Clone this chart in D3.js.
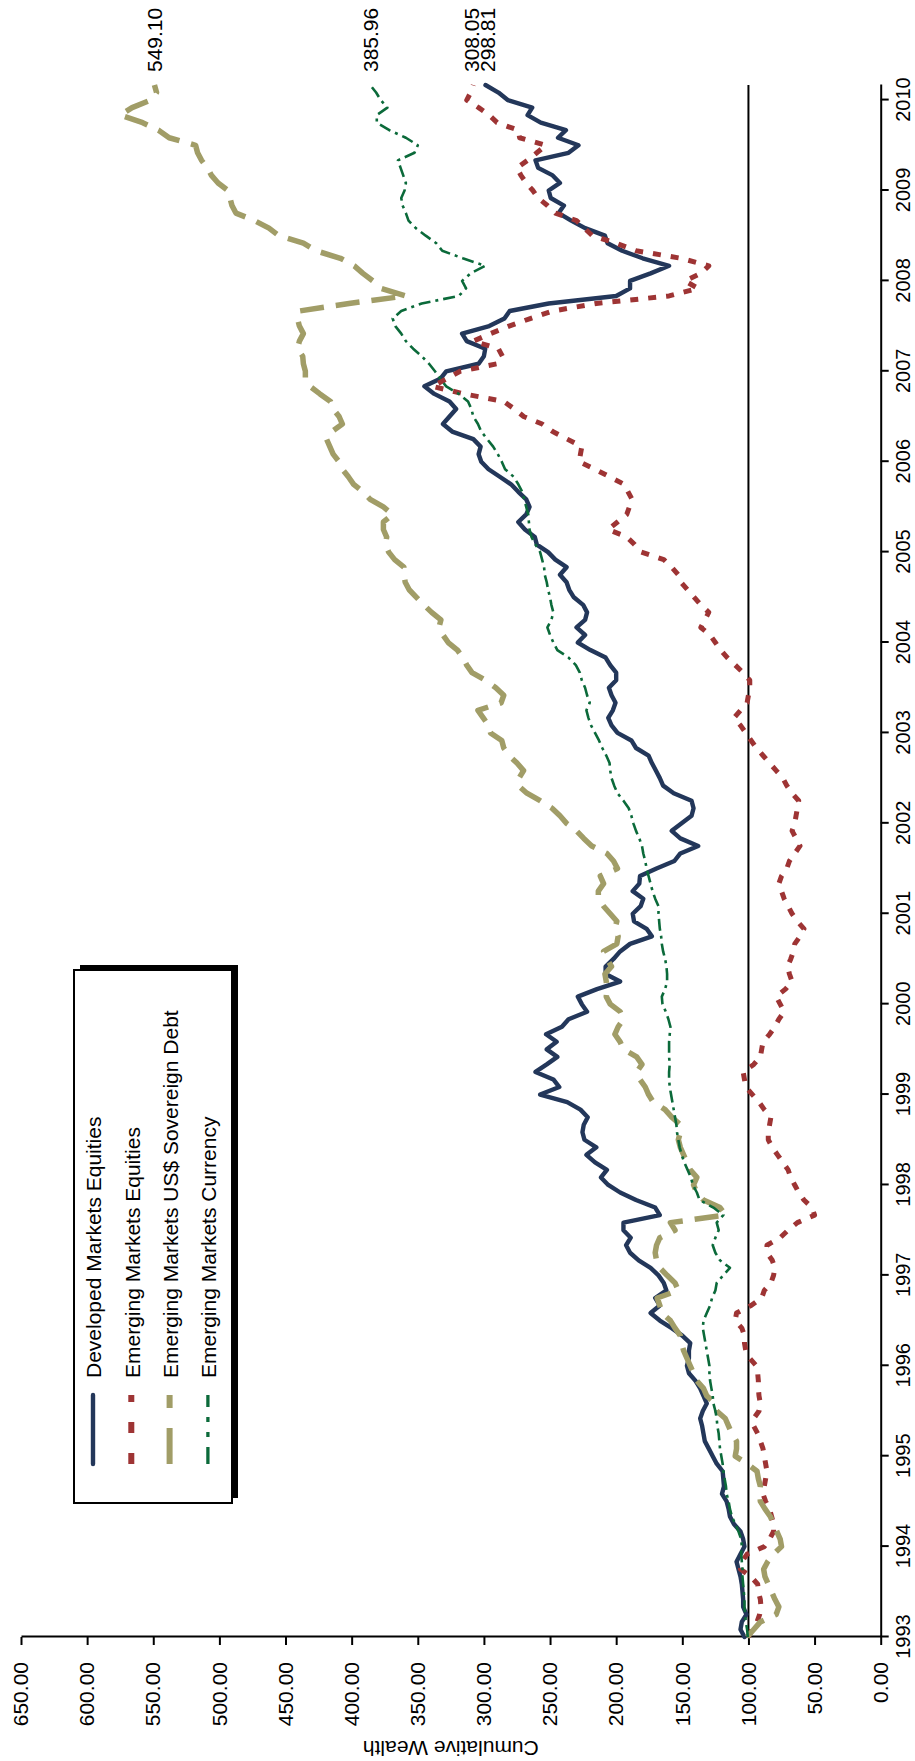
<!DOCTYPE html>
<html>
<head>
<meta charset="utf-8">
<script src="https://cdn.jsdelivr.net/npm/d3@7"></script>
<style>
  html, body { margin: 0; padding: 0; background: #fff; }
  svg { display: block; }
  text { font-family: "Liberation Sans", Arial, sans-serif; fill: #000; }
</style>
</head>
<body>
<div id="chart"></div>
<script>
// ---------------- DATA (monthly, Jan 1993 .. Mar 2010) ----------------
const yearLabels = ["1993","1994","1995","1996","1997","1998","1999","2000","2001",
  "2002","2003","2004","2005","2006","2007","2008","2009","2010"];
const valueTicks = [0,50,100,150,200,250,300,350,400,450,500,550,600,650];
const seriesNames = ["Developed Markets Equities","Emerging Markets Equities",
  "Emerging Markets US$ Sovereign Debt","Emerging Markets Currency"];

const developedEquities = [
  103,106,105,101.5,104,104,104.5,105,106,107.5,109,106,
  103,104,106,111,114,115,116.5,120,118.5,119,119.5,124,
  127,130,133,134,135,136.5,134.5,131.5,134,136.5,140,145,
  146.5,145,145,144,150,158,167,174,167,170.5,162,164,
  168,174,183,189.5,192.5,189,194.5,194.5,167,170.5,185,197,
  206,211.5,207,216,222.5,215,224,225.5,224.5,221.5,227,237,
  257.5,243,247.5,261,252.5,244.5,252.5,245,253,241,236,222,
  226,229,214.5,197,208,208,202,197,189.5,173,177,186.5,
  187.5,181.5,179.5,187.5,182.5,182,169.5,156,151.5,138,151.5,158,
  150.5,143,141.5,143,156.5,164.5,167,170,173,175.5,185,188.5,
  199,203.5,206,202.5,200.5,203.5,205.5,200,200,204.5,208,219.5,
  229,223.5,230,223.5,222,225,232,235.5,237.5,242.5,237.5,246,
  251.5,260,261.5,269,274,268,265.5,268,274,279.5,288,296.5,
  302,304,302.5,308,324,331,326,321,326,337.5,345,333,
  328.5,304,300,299,313,316.5,296,284.5,280.5,251,200,189.5,
  189.5,174,160,180,195.5,206.5,208.5,223.5,234,243.5,239.5,249.5,
  251,242.5,248,259,261,236,228.5,244,238,257,267,263.5,
  282,289,298.81];

const emergingEquities = [
  100,97.5,93.5,91.5,90.5,91,92.5,93,98,106,105,101,
  88,84,81,81,82.5,84,87,89,88,87,86,87,
  88,89,91,93,96,96,92,91,92,92.5,92.5,93,
  94,99,102,103,103,105,110,109,98,90,88,83,
  81,80,82,86,86,76,70,63,50,52,58,62,
  65,68,70,74,78,82,85,85,84,83,88,92,
  97,102,103,104,96,91,90,89,84,80,77,73,
  76,79,72,67,69,70.5,68,66,65,61,58,63,
  67,70,73,75,77,75,71,69,65,61,64,67,
  65,64,63,62,67,71,74,79,84,89,94,98,
  102,106,111,106,101,100,99,99,104,110,116,121,
  125,129,136,133,130,136,141,146,151,153,158,164,
  181,186,192,206,199,192,190,188,191,194,205,216,
  228,227,226,237,248,256,270,277,285,315,339,328,
  318,290,286,289,308,295,281,265,248,215,160,138,
  148,136,130,151,185,200,218,224,230,246,252,259,
  263,268,272,275,267,260,253,273,274,290,296,304,
  313,310,308.05];

const emergingDebt = [
  101,96,91,79,77,80,82.5,85,87.5,88.5,85.5,81,
  75,76,78.5,81,83.5,87.5,91,91.5,91,92.5,93.5,101,
  110,109,109,112.5,115,117.5,124,125,131.5,134,139,141.5,
  144,146.5,149,150.5,151.5,155.5,159,165.5,167,169,153,155.5,
  161.5,167,169.5,170.5,169.5,167,155.5,159,117.5,121.5,134,139,
  141.5,139,144,146.5,149,151.5,153,151.5,151.5,158,163,172,
  175.5,178,182,184.5,180.5,184.5,194.5,197,201,198.5,194.5,197,
  204.5,207.5,207,207.5,208.5,203.5,207,209.5,199.5,198.5,201,199.5,
  204.5,209.5,213.5,213.5,209.5,212,199,202,207,218.5,224.5,230,
  237.5,242.5,248.5,257.5,267.5,274,273.5,270,275,281,285,286.5,
  295,296.5,300.5,304.5,287,285,291,299,309,313,316,320,
  327,331,334,332.5,339.5,345.5,351,356.5,359.5,360.5,360.5,367.5,
  372,374.5,373.5,376,376,369,376,386,391.5,398.5,402.5,407,
  409.5,414,416.5,419,415,407,409.5,414,416,424,431.5,435,
  435,436.5,437,441,439.5,436.5,439.5,441,439.5,402,359,377.5,
  384,391.5,398,408.5,427,436.5,455,462.5,473.5,487.5,490.5,492,
  493.5,501,506,509,513.5,516.5,518,538,546,558,575,566,
  552,547.5,549.10];

const emergingCurrency = [
  100.5,101,102,102.5,103,103,103.5,104,104.5,104.5,105,105.5,
  105,105.5,107.5,110,112.5,114,115,116.5,117,118,119,119.5,
  120.5,121.5,122,122.5,123.5,124,125,126.5,127,128,129,129.5,
  129.5,130.5,131.5,132.5,133.5,134.5,134,131.5,129,127.5,125,124,
  119,114,121.5,125,127,125,122.5,124,119,126.5,137,139,
  142,143.5,146,148.5,150.5,152,153,154,154.5,155.5,156.5,157.5,
  158.5,159.5,160,160,159.5,160,160,160,159.5,159,160.5,162.5,
  165,165.5,163,161.5,161.5,162,163,164.5,165.5,166,167,167.5,
  168,168,170.5,172.5,174,175.5,177,178,179.5,180.5,182.5,185,
  187,188.5,190.5,194.5,199,201.5,203.5,204.5,205,207.5,210.5,213,
  216,219,221,222.5,220,222,223.5,226,227.5,230.5,236,244.5,
  247.5,250,252,249,247.5,249,250,251.5,252.5,254,254.5,256,
  257.5,261,264,265.5,266,266.5,268,269.5,271,274,277.5,284,
  286.5,289.5,293,297.5,302,304.5,308,309.5,312,319,328.5,333,
  337,341.5,347,353.5,359,362.5,367,369,362.5,347,319,313.5,
  316.5,310,299,316,331.5,336,344,351.5,357,359,361.5,362.5,
  360,359,361,363,365,352.5,350,359,371.5,381,381,373,
  378,381.5,385.96];

const endLabels = ["298.81","308.05","549.10","385.96"];

// ---------------- LAYOUT ----------------
const W = 915, H = 1761;
const svg = d3.select("#chart").append("svg").attr("width", W).attr("height", H);

// the whole chart is drawn in an unrotated frame, then turned 90° counter-clockwise
const g = svg.append("g").attr("transform", `translate(0,${H}) rotate(-90)`);

const nMonths = developedEquities.length;            // 207
const x = d3.scaleLinear().domain([0, nMonths - 1]).range([124, 1676]);
const y = d3.scaleLinear().domain([0, 650]).range([880.7, 21]);

const FONT = 21;
const FF = '"Liberation Sans", Arial, sans-serif';

// reference line at 100
g.append("line")
  .attr("x1", x(0)).attr("x2", x(nMonths - 1))
  .attr("y1", y(100)).attr("y2", y(100))
  .attr("stroke", "#000").attr("stroke-width", 2);

// value axis
const yAxis = d3.axisLeft(y).tickValues(valueTicks).tickFormat(d3.format(".2f"))
  .tickSize(8).tickSizeOuter(0).tickPadding(17);
const gy = g.append("g").attr("transform", `translate(${x(0)},0)`).call(yAxis);
gy.selectAll("path, line").attr("stroke", "#000").attr("stroke-width", 2);
gy.selectAll("text").attr("font-size", FONT).style("font-family", FF);

// year axis
const yearTicks = yearLabels.map((_, i) => i * 12);
const xAxis = d3.axisBottom(x).tickValues(yearTicks).tickFormat(d => yearLabels[d / 12])
  .tickSize(8).tickSizeOuter(0).tickPadding(7);
const gx = g.append("g").attr("transform", `translate(0,${y(0)})`).call(xAxis);
gx.selectAll("path, line").attr("stroke", "#000").attr("stroke-width", 2);
gx.selectAll("text").attr("font-size", 20).style("font-family", FF);

// axis title
g.append("text")
  .attr("transform", `translate(20,${(y(0) + y(650)) / 2}) rotate(-90)`)
  .attr("text-anchor", "middle")
  .attr("font-size", FONT)
  .text("Cumulative Wealth");

// ---------------- SERIES ----------------
const styles = [
  { data: developedEquities, color: "#23375a", width: 4.4, dash: null,        legDash: null,              legW: 4.4 },
  { data: emergingEquities,  color: "#9e3434", width: 5,   dash: "8,10",      legDash: "11,20",           legW: 6 },
  { data: emergingDebt,      color: "#a19d67", width: 5.5, dash: "24,12",     legDash: "36,20",           legW: 6 },
  { data: emergingCurrency,  color: "#0b6a3a", width: 2.6, dash: "12,5,3,5",  legDash: "17,10,5,10,5,10", legW: 3.3 }
];

const line = d3.line().x((d, i) => x(i)).y(d => y(d));

styles.forEach(s => {
  g.append("path")
    .datum(s.data)
    .attr("d", line)
    .attr("fill", "none")
    .attr("stroke", s.color)
    .attr("stroke-width", s.width)
    .attr("stroke-linejoin", "round")
    .attr("stroke-linecap", s.dash ? "butt" : "round")
    .attr("stroke-dasharray", s.dash);
});

// end-of-line value labels, nudged apart so they do not overlap
const labelPos = styles.map((s, i) => ({ i, v: y(s.data[s.data.length - 1]) }))
  .sort((a, b) => a.v - b.v);
const MIN_GAP = 16;
for (let k = 1; k < labelPos.length; k++) {
  const gap = labelPos[k].v - labelPos[k - 1].v;
  if (gap < MIN_GAP) {
    const shift = (MIN_GAP - gap) / 2;
    labelPos[k - 1].v -= shift;
    labelPos[k].v += shift;
  }
}
labelPos.forEach(p => {
  g.append("text")
    .attr("x", 1689)
    .attr("y", p.v)
    .attr("dy", "0.35em")
    .attr("font-size", FONT)
    .text(endLabels[p.i]);
});

// ---------------- LEGEND ----------------
const leg = g.append("g");
leg.append("rect").attr("x", 263).attr("y", 80).attr("width", 533).attr("height", 158)
  .attr("fill", "#000");
leg.append("rect").attr("x", 258).attr("y", 74).attr("width", 533).attr("height", 158)
  .attr("fill", "#fff").attr("stroke", "#000").attr("stroke-width", 2);

styles.forEach((s, i) => {
  const cy = 93 + i * 38.3;
  leg.append("line")
    .attr("x1", 297).attr("x2", 366).attr("y1", cy).attr("y2", cy)
    .attr("stroke", s.color)
    .attr("stroke-width", s.legW)
    .attr("stroke-linecap", s.dash ? "butt" : "round")
    .attr("stroke-dasharray", s.legDash);
  leg.append("text")
    .attr("x", 383).attr("y", cy + 1).attr("dy", "0.35em")
    .attr("font-size", FONT)
    .text(seriesNames[i]);
});
</script>
</body>
</html>
